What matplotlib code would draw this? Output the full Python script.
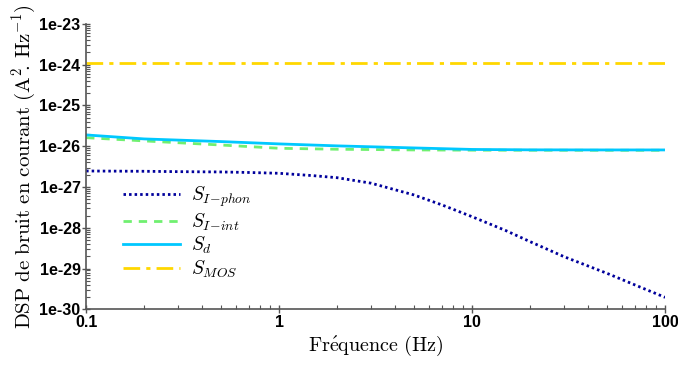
import matplotlib
matplotlib.use("Agg")
import matplotlib.pyplot as plt
from matplotlib.ticker import LogLocator, FixedLocator, FixedFormatter, NullFormatter

plt.rcParams['mathtext.fontset'] = 'cm'

# Frequencies (Hz)
freq = [0.1, 0.2, 0.3, 0.5, 0.7, 1, 1.5, 2, 3, 5, 7, 10, 15, 20, 30, 50, 70, 100]
# S_I-phon
s_phon = [2.47e-27, 2.43e-27, 2.38e-27, 2.34e-27, 2.27e-27, 2.17e-27, 1.90e-27, 1.69e-27,
          1.24e-27, 6.38e-28, 3.62e-28, 1.87e-28, 8.49e-29, 4.56e-29, 1.95e-29, 7.65e-30,
          3.95e-30, 1.97e-30]
# S_I-int
freq_int = [0.1, 0.2, 0.5, 1, 2, 5, 10, 20, 50, 100]
s_int = [1.62e-26, 1.35e-26, 1.07e-26, 8.9e-27, 8.43e-27, 8.11e-27, 8.0e-27, 7.97e-27, 7.95e-27, 7.95e-27]
# S_d
freq_d = [0.1, 0.2, 0.5, 1, 2, 5, 10, 20, 50, 100]
s_d = [1.89e-26, 1.51e-26, 1.30e-26, 1.14e-26, 1.02e-26, 9.08e-27, 8.34e-27, 8.15e-27, 8.11e-27, 8.11e-27]
# S_MOS
freq_mos = [0.1, 100]
s_mos = [1.12e-24, 1.12e-24]

xticks = [0.1, 1, 10, 100]
xtick_labels = ['0.1', '1', '10', '100']
yticks = [1e-30, 1e-29, 1e-28, 1e-27, 1e-26, 1e-25, 1e-24, 1e-23]
ytick_labels = ['1e-30', '1e-29', '1e-28', '1e-27', '1e-26', '1e-25', '1e-24', '1e-23']

fig = plt.figure(figsize=(6.78, 3.67), dpi=100)
ax = fig.add_axes([0.127, 0.157, 0.854, 0.778])

ax.plot(freq, s_phon, color='#00009C', lw=2.0, linestyle=(0, (0.9, 1.1)),
        label=r'$S_{I\!-\!phon}$')
ax.plot(freq_int, s_int, color='#70F070', lw=2.0, linestyle=(0, (3, 2.5)),
        label=r'$S_{I\!-\!int}$')
ax.plot(freq_d, s_d, color='#00C8FF', lw=2.0, linestyle='-', label=r'$S_d$')
ax.plot(freq_mos, s_mos, color='#FFD700', lw=2.0, linestyle=(0, (6, 2.2, 1.5, 2.2)),
        label=r'$S_{MOS}$')

ax.set_xscale('log')
ax.set_yscale('log')
ax.set_xlim(0.1, 100)
ax.set_ylim(1e-30, 1e-23)

ax.xaxis.set_major_locator(FixedLocator(xticks))
ax.xaxis.set_major_formatter(FixedFormatter(xtick_labels))
ax.xaxis.set_minor_locator(LogLocator(base=10, subs=range(2, 10), numticks=20))
ax.xaxis.set_minor_formatter(NullFormatter())
ax.yaxis.set_major_locator(FixedLocator(yticks))
ax.yaxis.set_major_formatter(FixedFormatter(ytick_labels))
ax.yaxis.set_minor_locator(LogLocator(base=10, subs=range(2, 10), numticks=20))
ax.yaxis.set_minor_formatter(NullFormatter())

for s in ['top', 'right']:
    ax.spines[s].set_visible(False)
for s in ['left', 'bottom']:
    ax.spines[s].set_color('#555555')
    ax.spines[s].set_linewidth(1.2)

ax.tick_params(which='major', direction='inout', length=6, width=1, color='#555555', pad=1)
ax.tick_params(which='minor', direction='in', length=3, width=0.8, color='#555555')
for lab in ax.get_xticklabels() + ax.get_yticklabels():
    lab.set_fontfamily('Liberation Sans')
    lab.set_fontweight('bold')
    lab.set_fontsize(11.5)

ax.set_xlabel(r'$\mathrm{Fr\acute{e}quence\ (Hz)}$', fontsize=14.5, labelpad=3)
ax.set_ylabel(r'$\mathrm{DSP\ de\ bruit\ en\ courant\ (A^2\!.\,Hz^{-1})}$', fontsize=15, labelpad=1)

leg = ax.legend(loc='upper left', bbox_to_anchor=(0.064, 0.437), frameon=False,
                fontsize=14, handlelength=2.9, labelspacing=0.12, handletextpad=0.6,
                borderpad=0, borderaxespad=0)

fig.savefig('out.png', dpi=100)
